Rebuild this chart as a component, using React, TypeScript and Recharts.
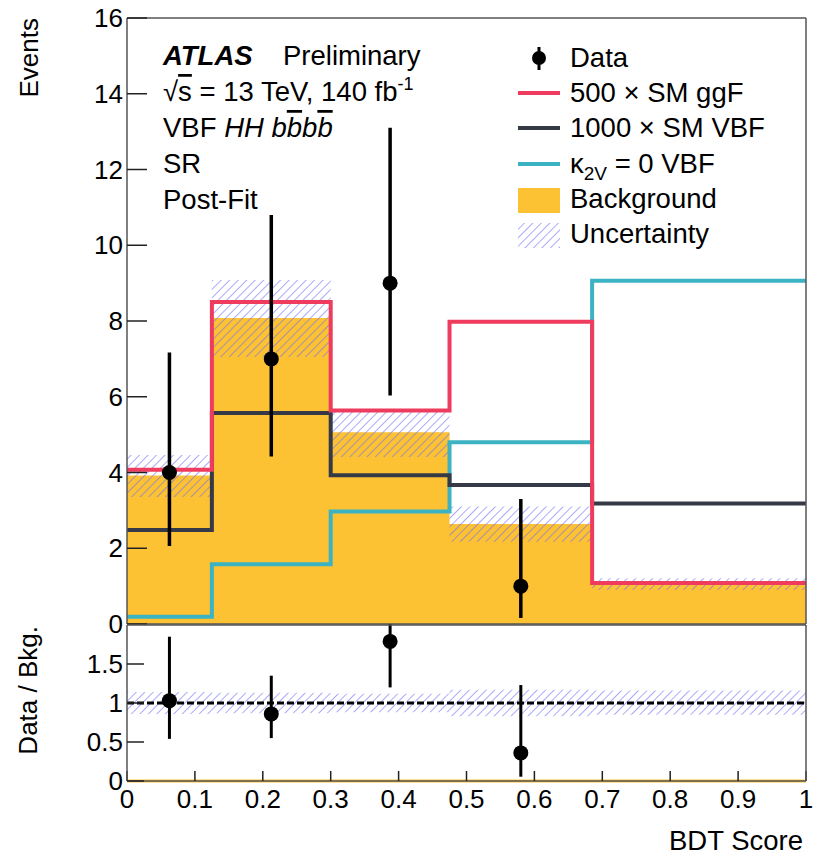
import React from 'react';
import {
  ComposedChart,
  Area,
  Line,
  Scatter,
  XAxis,
  YAxis,
  ErrorBar,
  ReferenceLine,
} from 'recharts';

// ---- binning of the BDT score ----
const binEdges = [0, 0.125, 0.3, 0.475, 0.685, 1];

// ---- per-bin yields (events) ----
const background = [3.92, 8.08, 5.06, 2.64, 1.04];
const bkgUncLow = [3.35, 7.05, 4.41, 2.17, 0.9];
const bkgUncHigh = [4.46, 9.08, 5.6, 3.1, 1.21];
const ggF500 = [4.07, 8.5, 5.64, 7.98, 1.08];
const vbf1000 = [2.48, 5.57, 3.93, 3.67, 3.18];
const k2vZero = [0.19, 1.58, 2.97, 4.8, 9.06];

// ---- observed data (first four bins) ----
const dataX = [0.0625, 0.2125, 0.3875, 0.58];
const dataY = [4, 7, 9, 1];
const dataLow = [2.06, 4.42, 6.03, 0.16];
const dataHigh = [7.17, 10.8, 13.1, 3.3];

// ---- data / background ----
const ratioY = [1.03, 0.86, 1.79, 0.36];
const ratioLow = [0.54, 0.55, 1.2, 0.055];
const ratioHigh = [1.85, 1.35, 2.6, 1.23];
const ratioUncLow = [0.86, 0.87, 0.88, 0.83, 0.85];
const ratioUncHigh = [1.14, 1.13, 1.12, 1.17, 1.16];

// ---- axis ticks ----
const xMajorTicks = [0, 0.1, 0.2, 0.3, 0.4, 0.5, 0.6, 0.7, 0.8, 0.9, 1];
const yMajorTicks = [0, 2, 4, 6, 8, 10, 12, 14, 16];
const ratioMajorTicks = [0, 0.5, 1, 1.5];

const steps = (lo: number, hi: number, step: number) =>
  Array.from({ length: Math.round((hi - lo) / step) + 1 }, (_, i) => +(lo + i * step).toFixed(4));
const xMinorTicks = steps(0, 1, 0.02);
const yMinorTicks = steps(0, 16, 1);
const ratioMinorTicks = steps(0, 2, 0.1);

// ---- styling ----
const FONT = '"Liberation Sans", Arial, Helvetica, sans-serif';
const YELLOW = '#fdc134';
const RED = '#ef3b5d';
const DARK = '#363a46';
const TEAL = '#3bb3c3';
const HATCH = '#6f6ff2';
const AXIS = { stroke: '#555', strokeWidth: 1.5 };
const TICK = { stroke: '#222', strokeWidth: 1.5 };

const signals = [
  { key: 'k2v', color: TEAL },
  { key: 'vbf', color: DARK },
  { key: 'ggf', color: RED },
];

// histogram rows: one point per bin edge, last bin repeated at the right edge
const histRows = binEdges.map((x, i) => {
  const b = Math.min(i, background.length - 1);
  return {
    x,
    bkg: background[b],
    unc: [bkgUncLow[b], bkgUncHigh[b]],
    ggf: ggF500[b],
    vbf: vbf1000[b],
    k2v: k2vZero[b],
    runc: [ratioUncLow[b], ratioUncHigh[b]],
  };
});

const dataPoints = dataX.map((x, i) => ({
  x,
  y: dataY[i],
  err: [dataY[i] - dataLow[i], dataHigh[i] - dataY[i]],
}));

const ratioPoints = dataX.map((x, i) => ({
  x,
  y: ratioY[i],
  err: [ratioY[i] - ratioLow[i], ratioHigh[i] - ratioY[i]],
}));

const tickText = { fill: '#000', fontSize: 26, fontFamily: FONT };

type FrameOpts = {
  yDomain: [number, number];
  yMajor: number[];
  yMinor: number[];
  yMajorLen: number;
  yMinorLen: number;
  xMajorLen: number;
  xMinorLen: number;
  yLabelMargin: number;
  showXLabels: boolean;
  xLabelMargin: number;
};

// Four-sided frame with inward ROOT-style ticks. Mirrored axes take no layout
// space, so they sit exactly on the plot edges; the labelled left axis (and the
// labelled bottom axis of the ratio pad) is 1px wide/high and uses inward ticks.
function frameAxes(o: FrameOpts) {
  const xc = { type: 'number' as const, dataKey: 'x', domain: [0, 1] as [number, number], allowDataOverflow: true, interval: 0 as const, height: 1 };
  const yc = { type: 'number' as const, domain: o.yDomain, allowDataOverflow: true, interval: 0 as const, width: 1 };
  return [
    o.showXLabels ? (
      <XAxis
        key="xb"
        xAxisId="b"
        {...xc}
        ticks={xMajorTicks}
        tickSize={-o.xMajorLen}
        tickMargin={o.xLabelMargin}
        tick={tickText}
        axisLine={AXIS}
        tickLine={TICK}
      />
    ) : (
      <XAxis key="xb" xAxisId="b" {...xc} mirror ticks={xMajorTicks} tickSize={o.xMajorLen} tick={false} axisLine={AXIS} tickLine={TICK} />
    ),
    <XAxis key="xbm" xAxisId="bm" {...xc} mirror ticks={xMinorTicks} tickSize={o.xMinorLen} tick={false} axisLine={false} tickLine={TICK} />,
    <XAxis key="xt" xAxisId="t" orientation="top" {...xc} mirror ticks={xMajorTicks} tickSize={o.xMajorLen} tick={false} axisLine={AXIS} tickLine={TICK} />,
    <XAxis key="xtm" xAxisId="tm" orientation="top" {...xc} mirror ticks={xMinorTicks} tickSize={o.xMinorLen} tick={false} axisLine={false} tickLine={TICK} />,
    <YAxis
      key="yl"
      yAxisId="l"
      {...yc}
      ticks={o.yMajor}
      tickSize={-o.yMajorLen}
      tickMargin={o.yLabelMargin}
      tick={tickText}
      axisLine={AXIS}
      tickLine={TICK}
    />,
    <YAxis key="ylm" yAxisId="lm" {...yc} mirror ticks={o.yMinor} tickSize={o.yMinorLen} tick={false} axisLine={false} tickLine={TICK} />,
    <YAxis key="yr" yAxisId="r" orientation="right" {...yc} mirror ticks={o.yMajor} tickSize={o.yMajorLen} tick={false} axisLine={AXIS} tickLine={TICK} />,
    <YAxis key="yrm" yAxisId="rm" orientation="right" {...yc} mirror ticks={o.yMinor} tickSize={o.yMinorLen} tick={false} axisLine={false} tickLine={TICK} />,
  ];
}

const hatchDefs = (id: string) => (
  <defs>
    <pattern id={id} patternUnits="userSpaceOnUse" width={6} height={6} patternTransform="rotate(45)">
      <line x1={0} y1={0} x2={0} y2={6} stroke={HATCH} strokeWidth={1.4} strokeOpacity={0.85} />
    </pattern>
  </defs>
);

const dot = (r: number) => (p: any) => <circle cx={p.cx} cy={p.cy} r={r} fill="#000" />;

function MainPanel() {
  return (
    <ComposedChart
      width={819}
      height={640}
      data={histRows}
      margin={{ top: 18, right: 13, bottom: 16, left: 126 }}
      style={{ fontFamily: FONT }}
    >
      {hatchDefs('hatchMain')}
      {frameAxes({
        yDomain: [0, 16],
        yMajor: yMajorTicks,
        yMinor: yMinorTicks,
        yMajorLen: 20,
        yMinorLen: 10,
        xMajorLen: 17,
        xMinorLen: 9,
        yLabelMargin: 24,
        showXLabels: false,
        xLabelMargin: 0,
      })}
      <Area
        xAxisId="b"
        yAxisId="l"
        type="stepAfter"
        dataKey="bkg"
        fill={YELLOW}
        fillOpacity={1}
        stroke="none"
        isAnimationActive={false}
      />
      <Area
        xAxisId="b"
        yAxisId="l"
        type="stepAfter"
        dataKey="unc"
        fill="url(#hatchMain)"
        fillOpacity={1}
        stroke="none"
        isAnimationActive={false}
      />
      {signals.map((s) => (
        <Line
          key={s.key}
          xAxisId="b"
          yAxisId="l"
          type="stepAfter"
          dataKey={s.key}
          stroke={s.color}
          strokeWidth={4}
          strokeLinejoin="miter"
          dot={false}
          isAnimationActive={false}
        />
      ))}
      <Scatter xAxisId="b" yAxisId="l" data={dataPoints} dataKey="y" shape={dot(7.5)} isAnimationActive={false}>
        <ErrorBar dataKey="err" direction="y" width={0} stroke="#000" strokeWidth={3.5} isAnimationActive={false} />
      </Scatter>
    </ComposedChart>
  );
}

// The ratio pad's svg starts at the pad's top edge, so anything running past
// the y-range (e.g. the third error bar) is clipped by the svg viewport.
function RatioPanel() {
  return (
    <ComposedChart
      width={819}
      height={234}
      data={histRows}
      margin={{ top: 1, right: 13, bottom: 76, left: 126 }}
      style={{ fontFamily: FONT }}
    >
      {hatchDefs('hatchRatio')}
      {frameAxes({
        yDomain: [0, 2],
        yMajor: ratioMajorTicks,
        yMinor: ratioMinorTicks,
        yMajorLen: 17,
        yMinorLen: 9,
        xMajorLen: 10,
        xMinorLen: 5,
        yLabelMargin: 21,
        showXLabels: true,
        xLabelMargin: 19,
      })}
      <Area
        xAxisId="b"
        yAxisId="l"
        type="stepAfter"
        dataKey="runc"
        fill="url(#hatchRatio)"
        fillOpacity={1}
        stroke="none"
        isAnimationActive={false}
      />
      <ReferenceLine xAxisId="b" yAxisId="l" y={0} stroke={YELLOW} strokeWidth={3} />
      <ReferenceLine xAxisId="b" yAxisId="l" y={1} stroke="#000" strokeWidth={3} strokeDasharray="7 3" />
      <Scatter xAxisId="b" yAxisId="l" data={ratioPoints} dataKey="y" shape={dot(7.5)} isAnimationActive={false}>
        <ErrorBar dataKey="err" direction="y" width={0} stroke="#000" strokeWidth={3} isAnimationActive={false} />
      </Scatter>
    </ComposedChart>
  );
}

function Annotations() {
  const t = { fontFamily: FONT, fontSize: 27.5, fill: '#000' };
  const a = { fontFamily: FONT, fontSize: 26, fill: '#000' };
  const lx = 518;
  const tx = 570;
  return (
    <svg width={819} height={858} style={{ position: 'absolute', left: 0, top: 0, pointerEvents: 'none' }}>
      {hatchDefs('hatchLegend')}
      {/* axis titles */}
      <text {...a} transform="translate(38,18) rotate(-90)" textAnchor="end">Events</text>
      <text {...a} transform="translate(37,626) rotate(-90)" textAnchor="end">Data / Bkg.</text>
      <text {...t} x={803} y={850} textAnchor="end">BDT Score</text>

      {/* experiment label */}
      <text {...t} x={163} y={65} fontWeight="bold" fontStyle="italic">ATLAS</text>
      <text {...t} x={283} y={65}>Preliminary</text>
      <text {...t} x={163} y={101}>
        √<tspan style={{ textDecoration: 'overline' }}>s</tspan> = 13 TeV, 140 fb
        <tspan dy={-11} fontSize={18}>-1</tspan>
      </text>
      <text {...t} x={163} y={137}>
        VBF <tspan fontStyle="italic">HH b</tspan>
        <tspan fontStyle="italic" style={{ textDecoration: 'overline' }}>b</tspan>
        <tspan fontStyle="italic">b</tspan>
        <tspan fontStyle="italic" style={{ textDecoration: 'overline' }}>b</tspan>
      </text>
      <text {...t} x={163} y={173}>SR</text>
      <text {...t} x={163} y={209}>Post-Fit</text>

      {/* legend */}
      <line x1={539} x2={539} y1={47} y2={70} stroke="#000" strokeWidth={3} />
      <circle cx={539} cy={58} r={7} fill="#000" />
      <text {...t} x={tx} y={67}>Data</text>

      <line x1={lx} x2={lx + 42} y1={93} y2={93} stroke={RED} strokeWidth={4} />
      <text {...t} x={tx} y={102}>500 × SM ggF</text>

      <line x1={lx} x2={lx + 42} y1={128} y2={128} stroke={DARK} strokeWidth={4} />
      <text {...t} x={tx} y={137}>1000 × SM VBF</text>

      <line x1={lx} x2={lx + 42} y1={164} y2={164} stroke={TEAL} strokeWidth={4} />
      <text {...t} x={tx} y={173}>
        κ<tspan dy={7} fontSize={19}>2V</tspan>
        <tspan dy={-7}> = 0 VBF</tspan>
      </text>

      <rect x={lx} y={188} width={42} height={25} fill={YELLOW} />
      <text {...t} x={tx} y={208}>Background</text>

      <rect x={lx} y={223} width={42} height={25} fill="url(#hatchLegend)" />
      <text {...t} x={tx} y={243}>Uncertainty</text>
    </svg>
  );
}

export default function App() {
  return (
    <div style={{ position: 'absolute', left: 0, top: 0, width: 819, height: 858, background: '#fff' }}>
      <div style={{ position: 'absolute', left: 0, top: 0 }}>
        <MainPanel />
      </div>
      <div style={{ position: 'absolute', left: 0, top: 624 }}>
        <RatioPanel />
      </div>
      <Annotations />
    </div>
  );
}
